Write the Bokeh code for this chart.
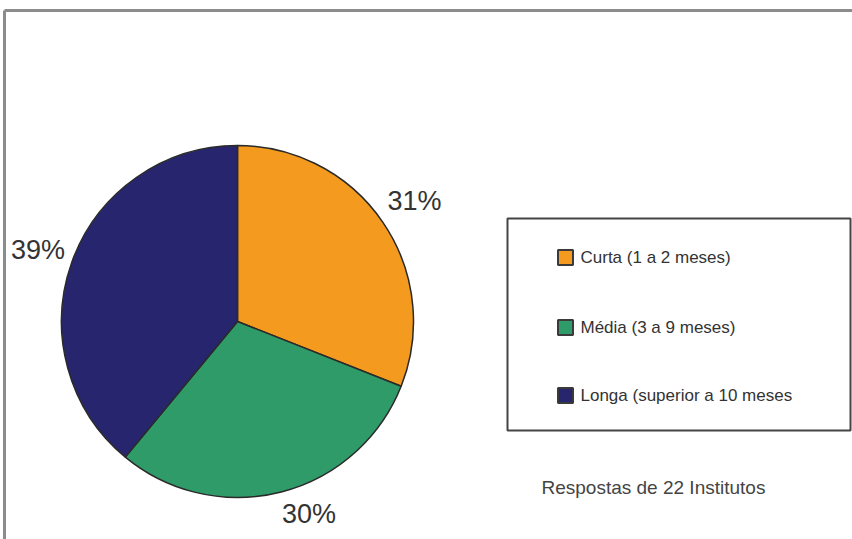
import math
from bokeh.plotting import figure
from bokeh.models import ColumnDataSource, Range1d
from bokeh.core.properties import value
from bokeh.embed import file_html
from bokeh.resources import INLINE

# ---- data ----
categories = ["Curta (1 a 2 meses)", "Média (3 a 9 meses)", "Longa (superior a 10 meses"]
shares = [31, 30, 39]
pct_labels = ["31%", "30%", "39%"]
colors = ["#F39A1F", "#2E9B68", "#26256E"]
note = "Respostas de 22 Institutos"

W, H = 852, 539
FONT = value("Liberation Sans")

p = figure(width=W, height=H, output_backend="svg", toolbar_location=None,
           x_range=Range1d(0, W), y_range=Range1d(0, H),
           x_axis_type=None, y_axis_type=None, min_border=0,
           outline_line_color=None, background_fill_color="white",
           border_fill_color="white")
p.grid.visible = False

def py(ypix):
    return H - ypix

# outer frame (top and left edges visible)
p.segment(x0=[4, 4], y0=[py(10), py(10)], x1=[W + 5, 4], y1=[py(10), -5],
          line_color="#8c8c8c", line_width=3)

# ---- pie ----
cx, cy, r = 237, py(321), 176
total = sum(shares)
starts, ends, mids = [], [], []
acc = 0.0
for s in shares:
    a0 = math.pi / 2 - 2 * math.pi * acc / total
    acc += s
    a1 = math.pi / 2 - 2 * math.pi * acc / total
    starts.append(a0)
    ends.append(a1)
    mids.append((a0 + a1) / 2)

src = ColumnDataSource(dict(start=starts, end=ends, color=colors))
p.wedge(x=cx, y=cy, radius=r, start_angle="start", end_angle="end",
        direction="clock", fill_color="color", line_color="#2a2a2a",
        line_width=1.5, source=src)

# percentage labels placed outside the slices (per-label layout tweaks)
label_r = [214, 205, 212]
label_da = [0.0, math.radians(6), 0.0]
lx = [cx + lr * math.cos(m + da) for m, lr, da in zip(mids, label_r, label_da)]
ly = [cy + lr * math.sin(m + da) for m, lr, da in zip(mids, label_r, label_da)]
p.text(x=lx, y=ly, text=pct_labels, text_font=FONT, text_font_size="27px",
       text_color="#333333", text_align="center", text_baseline="middle")

# ---- legend box ----
bx0, bx1, by0, by1 = 507, 850, 218, 430
p.quad(left=bx0, right=bx1, top=py(by0), bottom=py(by1), fill_color="white",
       line_color="#444444", line_width=2)
item_y = [py(257), py(327), py(395)]
p.rect(x=[565] * 3, y=item_y, width=15, height=15, fill_color=colors,
       line_color="#3a3a3a", line_width=2)
p.text(x=[580] * 3, y=item_y, text=categories, text_font=FONT,
       text_font_size="17px", text_color="#333333", text_align="left",
       text_baseline="middle")

# note
p.text(x=[541], y=[py(487)], text=[note], text_font=FONT,
       text_font_size="19px", text_color="#444444", text_align="left",
       text_baseline="middle")

open("out.html", "w").write(file_html(p, INLINE))
